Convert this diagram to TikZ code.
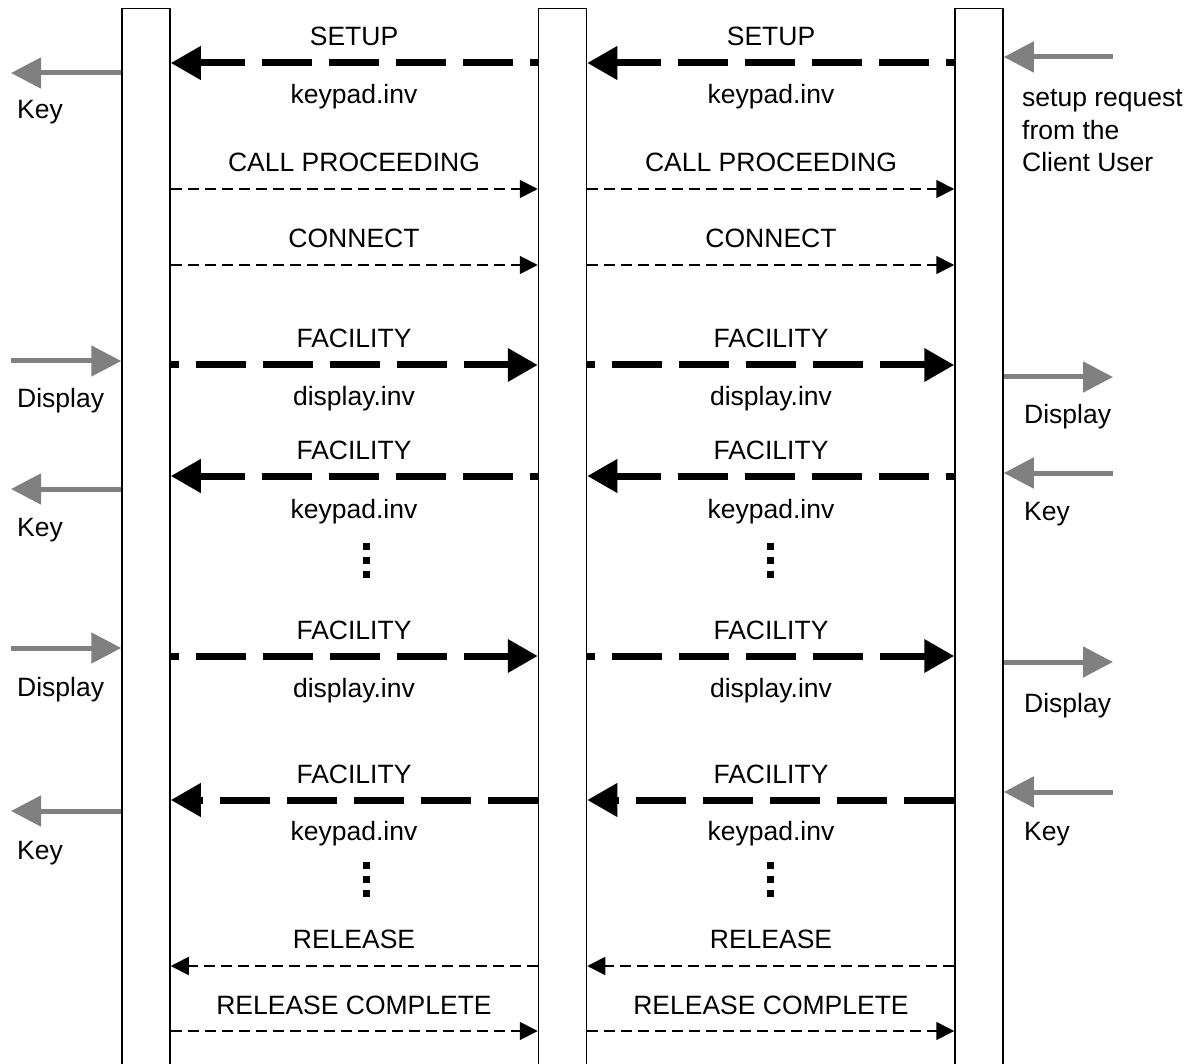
\documentclass[tikz,border=0pt]{standalone}
\usepackage{fontspec}
\setmainfont{Liberation Sans}
\usetikzlibrary{arrows.meta}

\begin{document}
\begin{tikzpicture}[x=1pt, y=-1pt,
    lifeline/.style={draw=black, line width=1.5pt, fill=white, minimum width=48pt, minimum height=1100pt, anchor=north, inner sep=0pt},
    bigmsg/.style={draw=black, line width=7pt, dash pattern=on 50pt off 17pt, dash phase=42pt, -{Triangle[length=30pt, width=32pt]}},
    smallmsg/.style={draw=black, line width=1.8pt, dash pattern=on 11pt off 6pt, -{Triangle[length=18pt, width=18pt]}},
    local/.style={draw=gray, line width=5pt, -{Triangle[length=30pt, width=30pt]}},
    dots/.style={draw=black, line width=7pt, dash pattern=on 7pt off 7pt},
    lbl/.style={font=\fontsize{26.5}{32.5}\selectfont, anchor=base, inner sep=0pt},
    side/.style={font=\fontsize{26.5}{32.5}\selectfont, anchor=base west, inner sep=0pt, align=left}]
    \useasboundingbox (0,0) rectangle (1197,1064);

    \node[lifeline] (L_1) at (146, 8) {};
    \node[lifeline] (L_2) at (562.5, 8) {};
    \node[lifeline] (L_3) at (979, 8) {};

    % message rows
    \coordinate (M_1) at (0, 63);
    \coordinate (M_2) at (0, 189);
    \coordinate (M_3) at (0, 265);
    \coordinate (M_4) at (0, 365);
    \coordinate (M_5) at (0, 476);
    \coordinate (M_6) at (0, 656);
    \coordinate (M_7) at (0, 800);
    \coordinate (M_8) at (0, 966);
    \coordinate (M_9) at (0, 1031);

    \path (L_2.west |- M_1) edge[bigmsg] (L_1.east |- M_1);
    \path (L_3.west |- M_1) edge[bigmsg] (L_2.east |- M_1);
    \path (L_1.east |- M_2) edge[smallmsg] (L_2.west |- M_2);
    \path (L_2.east |- M_2) edge[smallmsg] (L_3.west |- M_2);
    \path (L_1.east |- M_3) edge[smallmsg] (L_2.west |- M_3);
    \path (L_2.east |- M_3) edge[smallmsg] (L_3.west |- M_3);
    \path (L_1.east |- M_4) edge[bigmsg] (L_2.west |- M_4);
    \path (L_2.east |- M_4) edge[bigmsg] (L_3.west |- M_4);
    \path (L_2.west |- M_5) edge[bigmsg] (L_1.east |- M_5);
    \path (L_3.west |- M_5) edge[bigmsg] (L_2.east |- M_5);
    \path (L_1.east |- M_6) edge[bigmsg] (L_2.west |- M_6);
    \path (L_2.east |- M_6) edge[bigmsg] (L_3.west |- M_6);
    \path (L_2.west |- M_7) edge[bigmsg, dash phase=0pt] (L_1.east |- M_7);
    \path (L_3.west |- M_7) edge[bigmsg, dash phase=0pt] (L_2.east |- M_7);
    \path (L_2.west |- M_8) edge[smallmsg] (L_1.east |- M_8);
    \path (L_3.west |- M_8) edge[smallmsg] (L_2.east |- M_8);
    \path (L_1.east |- M_9) edge[smallmsg] (L_2.west |- M_9);
    \path (L_2.east |- M_9) edge[smallmsg] (L_3.west |- M_9);

    \node[lbl] (T_1a) at (354, 46) {SETUP};
    \node[lbl] (T_1b) at (354, 104) {keypad.inv};
    \node[lbl] (U_1a) at (771, 46) {SETUP};
    \node[lbl] (U_1b) at (771, 104) {keypad.inv};
    \node[lbl] (T_2) at (354, 172) {CALL PROCEEDING};
    \node[lbl] (U_2) at (771, 172) {CALL PROCEEDING};
    \node[lbl] (T_3) at (354, 248) {CONNECT};
    \node[lbl] (U_3) at (771, 248) {CONNECT};
    \node[lbl] (T_4a) at (354, 348) {FACILITY};
    \node[lbl] (T_4b) at (354, 406) {display.inv};
    \node[lbl] (U_4a) at (771, 348) {FACILITY};
    \node[lbl] (U_4b) at (771, 406) {display.inv};
    \node[lbl] (T_5a) at (354, 459) {FACILITY};
    \node[lbl] (T_5b) at (354, 518) {keypad.inv};
    \node[lbl] (U_5a) at (771, 459) {FACILITY};
    \node[lbl] (U_5b) at (771, 518) {keypad.inv};
    \node[lbl] (T_6a) at (354, 639) {FACILITY};
    \node[lbl] (T_6b) at (354, 697) {display.inv};
    \node[lbl] (U_6a) at (771, 639) {FACILITY};
    \node[lbl] (U_6b) at (771, 697) {display.inv};
    \node[lbl] (T_7a) at (354, 783) {FACILITY};
    \node[lbl] (T_7b) at (354, 840) {keypad.inv};
    \node[lbl] (U_7a) at (771, 783) {FACILITY};
    \node[lbl] (U_7b) at (771, 840) {keypad.inv};
    \node[lbl] (T_8) at (354, 948) {RELEASE};
    \node[lbl] (U_8) at (771, 948) {RELEASE};
    \node[lbl] (T_9) at (354, 1014) {RELEASE COMPLETE};
    \node[lbl] (U_9) at (771, 1014) {RELEASE COMPLETE};

    \draw[dots] (366, 543) -- (366, 578);
    \draw[dots] (770, 543) -- (770, 578);
    \draw[dots] (366, 862) -- (366, 897);
    \draw[dots] (770, 862) -- (770, 897);

    % user side, left
    \coordinate (K_1) at (11, 73);
    \coordinate (K_2) at (11, 361);
    \coordinate (K_3) at (11, 489);
    \coordinate (K_4) at (11, 648);
    \coordinate (K_5) at (11, 811);
    \path (L_1.west |- K_1) edge[local] (K_1);
    \path (K_2) edge[local] (L_1.west |- K_2);
    \path (L_1.west |- K_3) edge[local] (K_3);
    \path (K_4) edge[local] (L_1.west |- K_4);
    \path (L_1.west |- K_5) edge[local] (K_5);
    \node[side] (S_1) at (17, 119) {Key};
    \node[side] (S_2) at (17, 408) {Display};
    \node[side] (S_3) at (17, 536) {Key};
    \node[side] (S_4) at (17, 696) {Display};
    \node[side] (S_5) at (17, 859) {Key};

    % user side, right
    \coordinate (C_1) at (1113, 57);
    \coordinate (C_2) at (1113, 377);
    \coordinate (C_3) at (1113, 473);
    \coordinate (C_4) at (1113, 662);
    \coordinate (C_5) at (1113, 792);
    \path (C_1) edge[local] (L_3.east |- C_1);
    \path (L_3.east |- C_2) edge[local] (C_2);
    \path (C_3) edge[local] (L_3.east |- C_3);
    \path (L_3.east |- C_4) edge[local] (C_4);
    \path (C_5) edge[local] (L_3.east |- C_5);
    \node[side] (V_1) at (1022, 172) {setup request\\from the\\Client User};
    \node[side] (V_2) at (1024, 424) {Display};
    \node[side] (V_3) at (1024, 520) {Key};
    \node[side] (V_4) at (1024, 712) {Display};
    \node[side] (V_5) at (1024, 840) {Key};
\end{tikzpicture}
\end{document}
